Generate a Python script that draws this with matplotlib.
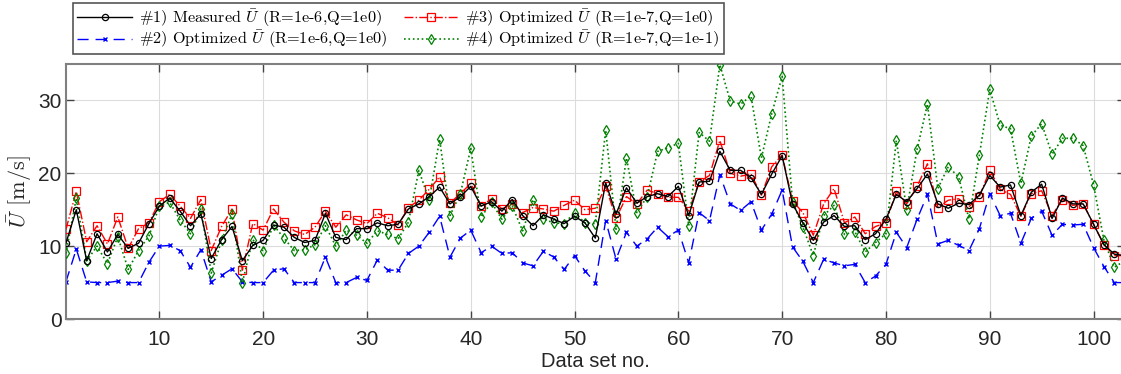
import numpy as np
import matplotlib
matplotlib.use('Agg')
import matplotlib.pyplot as plt

plt.rcParams['mathtext.fontset'] = 'cm'
plt.rcParams['font.family'] = ['Liberation Sans', 'DejaVu Sans']

# data set number 1..103
data_no = np.arange(1, 104)

measured = [10.4, 15.0, 8.0, 11.7, 9.2, 11.6, 9.7, 10.4, 13.1, 15.5,
            16.6, 14.8, 12.8, 14.4, 8.3, 10.9, 12.7, 8.0, 10.1, 10.8,
            12.9, 12.6, 11.2, 10.5, 10.8, 14.5, 11.2, 10.9, 12.4, 12.4,
            13.2, 12.8, 13.0, 15.1, 15.8, 16.8, 18.1, 15.8, 16.8, 18.2,
            15.5, 16.1, 14.8, 16.4, 14.2, 12.8, 14.3, 13.7, 13.1, 14.1,
            13.2, 11.1, 18.7, 14.4, 18.0, 15.9, 16.8, 17.2, 16.8, 18.2,
            14.2, 18.8, 18.9, 23.0, 20.4, 20.4, 19.4, 17.1, 19.9, 22.4,
            15.8, 13.2, 10.8, 13.3, 14.2, 12.7, 12.8, 10.9, 11.7, 13.7,
            17.1, 16.1, 17.9, 19.9, 15.8, 15.2, 15.9, 15.7, 17.0, 19.7,
            18.1, 18.4, 14.2, 17.4, 18.5, 13.8, 16.6, 15.8, 15.8, 13.0,
            10.2, 8.9, 8.7]

opt_r6_q0 = [5.1, 9.6, 5.1, 5.0, 5.0, 5.2, 5.0, 5.0, 7.8, 10.0,
             10.1, 9.4, 7.1, 9.5, 5.1, 6.0, 6.9, 5.1, 5.0, 5.0,
             6.7, 6.9, 5.0, 5.0, 5.0, 8.5, 5.0, 5.0, 5.7, 5.3,
             8.1, 6.7, 6.7, 9.0, 10.0, 11.9, 14.1, 8.5, 11.1, 12.2,
             9.1, 10.0, 9.0, 9.1, 7.7, 7.3, 9.3, 8.5, 6.8, 8.7,
             6.6, 5.0, 13.5, 8.2, 11.9, 10.0, 11.0, 12.6, 11.3, 12.2,
             7.7, 14.6, 13.5, 19.8, 15.8, 14.9, 16.1, 12.2, 14.4, 17.7,
             9.9, 7.9, 5.0, 8.2, 7.7, 7.3, 7.5, 5.0, 5.9, 7.5,
             11.9, 9.8, 13.7, 17.1, 10.3, 10.8, 10.1, 9.4, 12.4, 17.2,
             14.2, 14.5, 10.4, 13.8, 14.8, 11.5, 13.0, 12.9, 13.0, 9.8,
             7.2, 5.0, 5.0]

opt_r7_q0 = [12.3, 17.5, 10.6, 12.8, 10.3, 14.0, 9.7, 12.4, 13.2, 16.1,
             17.1, 15.5, 13.8, 16.4, 9.4, 12.7, 15.1, 6.7, 13.1, 12.2,
             15.1, 13.3, 12.1, 11.6, 12.6, 14.8, 12.6, 14.3, 13.6, 13.1,
             14.5, 13.9, 12.9, 15.3, 16.3, 17.8, 19.5, 15.9, 17.2, 18.6,
             15.5, 16.5, 15.1, 15.8, 14.6, 15.3, 15.1, 14.8, 15.6, 16.3,
             15.0, 15.2, 18.2, 13.8, 16.8, 15.8, 17.7, 17.2, 16.7, 16.7,
             14.8, 18.8, 19.7, 24.5, 20.0, 19.6, 19.9, 17.0, 20.9, 22.5,
             16.2, 14.6, 11.5, 15.8, 17.9, 13.2, 14.0, 11.7, 12.7, 13.2,
             17.5, 15.8, 18.2, 21.3, 15.3, 16.3, 16.5, 15.4, 16.8, 20.4,
             17.8, 17.1, 14.1, 17.2, 17.6, 14.2, 16.4, 15.6, 15.8, 13.0,
             10.2, 8.7, 8.7]

opt_r7_q1 = [9.0, 16.6, 8.0, 10.0, 7.6, 11.3, 6.8, 9.4, 11.4, 15.5,
             16.0, 13.6, 11.7, 15.1, 6.3, 10.8, 14.4, 5.0, 10.9, 9.3,
             12.9, 11.1, 9.4, 9.5, 10.2, 12.8, 10.0, 12.2, 11.5, 10.4,
             12.1, 11.6, 11.0, 13.3, 20.4, 16.3, 24.7, 14.2, 17.2, 23.4,
             14.0, 16.0, 13.7, 15.5, 12.1, 16.4, 13.7, 13.2, 13.1, 14.6,
             13.2, 13.1, 25.9, 12.3, 22.1, 14.6, 16.8, 23.0, 23.5, 24.1,
             12.8, 25.6, 24.4, 34.9, 29.9, 29.5, 30.6, 22.1, 28.2, 33.3,
             16.1, 12.6, 8.7, 14.2, 15.6, 11.6, 12.0, 9.2, 10.5, 11.7,
             24.5, 15.0, 23.3, 29.5, 17.9, 20.9, 19.5, 13.7, 22.5, 31.5,
             26.6, 26.1, 18.6, 25.1, 26.8, 22.6, 24.8, 24.8, 23.8, 18.4,
             10.8, 7.1, 8.0]

labels = [r'#1) Measured $\bar{U}$ (R=1e-6,Q=1e0)',
          r'#2) Optimized $\bar{U}$ (R=1e-6,Q=1e0)',
          r'#3) Optimized $\bar{U}$ (R=1e-7,Q=1e0)',
          r'#4) Optimized $\bar{U}$ (R=1e-7,Q=1e-1)']

fig = plt.figure(figsize=(11.21, 3.74), dpi=100)
ax = fig.add_axes([0.0588, 0.147, 0.9445, 0.682])

h1, = ax.plot(data_no, measured, '-', color='k', lw=1.0, marker='o', ms=4.5,
              mfc='none', mew=0.9, zorder=5)
h2, = ax.plot(data_no, opt_r6_q0, color='#0000ff', lw=1.0, dashes=(8, 5),
              marker='x', ms=3.5, mew=1.0, zorder=2)
h3, = ax.plot(data_no, opt_r7_q0, '-.', color='#ff0000', lw=1.0, marker='s',
              ms=5.5, mfc='none', mew=0.9, zorder=3)
h4, = ax.plot(data_no, opt_r7_q1, ':', color='#008000', lw=1.2, marker='d',
              ms=5.5, mfc='none', mew=0.9, zorder=4)

ax.set_xlim(1, 103)
ax.set_ylim(0, 35)
ax.set_xticks(np.arange(10, 101, 10))
ax.set_yticks([0, 10, 20, 30])
ax.grid(True, color='#dcdcdc', lw=0.8)
ax.set_axisbelow(True)
ax.tick_params(direction='in', top=True, right=True, length=6, width=1,
               color='#444444', labelsize=15, labelcolor='#262626', pad=3)
ax.tick_params(axis='x', pad=8)
for s in ax.spines.values():
    s.set_color('#808080')
    s.set_linewidth(1.5)

ax.set_xlabel('Data set no.', fontsize=14.5, color='#262626', labelpad=2)
ax.set_ylabel(r'$\bar{U}$ [m/s]', fontsize=16, color='#262626',
              family='cmr10', labelpad=3)

leg = fig.legend([h1, h2, h3, h4], labels, ncol=2, loc='upper left',
                 bbox_to_anchor=(73 / 1121, 1 - 3 / 374), borderaxespad=0,
                 prop={'family': 'cmr10', 'size': 11.7}, handlelength=3.4,
                 columnspacing=1.0, handletextpad=0.4, borderpad=0.25,
                 labelspacing=0.0, fancybox=False, framealpha=1)
leg.get_frame().set_edgecolor('#555555')
leg.get_frame().set_linewidth(1.2)

fig.savefig('out.png', dpi=100)
